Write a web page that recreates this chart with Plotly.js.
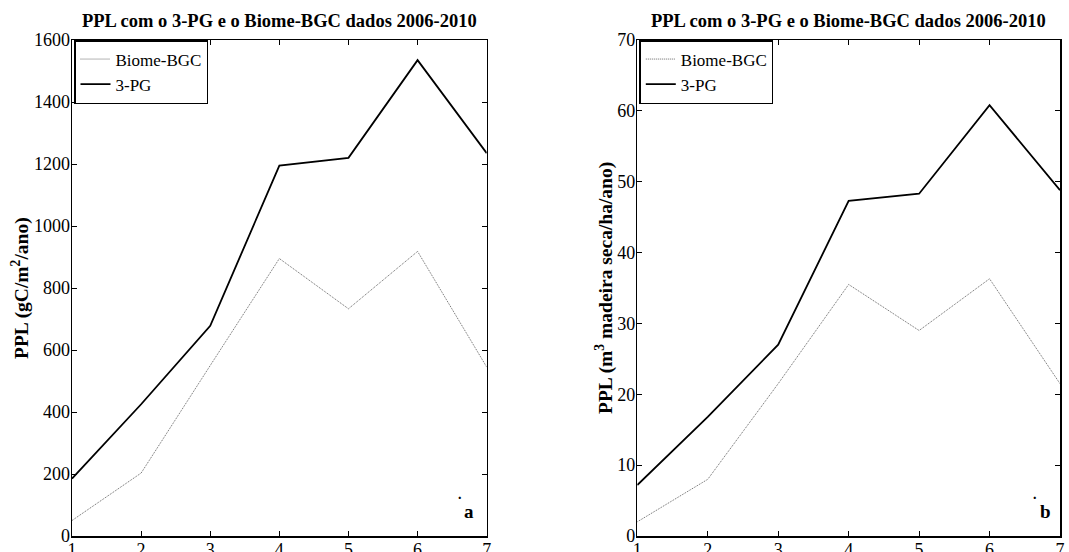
<!DOCTYPE html>
<html>
<head>
<meta charset="utf-8">
<script src="https://cdn.plot.ly/plotly-3.0.1.min.js"></script>
<style>html,body{margin:0;padding:0;background:#fff;}#chart{width:1069px;height:552px;}</style>
</head>
<body>
<div id="chart"></div>
<script>
// Data
const years = [1, 2, 3, 4, 5, 6, 7];
const biomeC = [50, 203, 550, 895, 733, 918, 545];
const pg3C = [185, 425, 678, 1195, 1220, 1535, 1235];
const biomeV = [2, 8, 21.5, 35.5, 29, 36.3, 21.5];
const pg3V = [7.2, 16.8, 27, 47.3, 48.3, 60.8, 48.8];
const xTicks = [1, 2, 3, 4, 5, 6, 7];
const yTicksC = [0, 200, 400, 600, 800, 1000, 1200, 1400, 1600];
const yTicksV = [0, 10, 20, 30, 40, 50, 60, 70];
const seriesNames = ['Biome-BGC', '3-PG'];
const chartTitle = 'PPL com o 3-PG e o Biome-BGC dados 2006-2010';
const yTitleC = 'PPL (gC/m<sup>2</sup>/ano)';
const yTitleV = 'PPL (m<sup>3</sup> madeira seca/ha/ano)';
const panelLabels = ['a', 'b'];

const FONT = '"Liberation Serif", "Times New Roman", serif';
const W = 1069, H = 552, T = 40, B = 16;
const plotH = H - T - B;
const xL = [72 / W, 486.7 / W];
const xR = [637.3 / W, 1060 / W];

const biomeLine = {color: '#666666', width: 1, dash: '1px,1px'};
const pgLine = {color: '#000', width: 1.8};

const traces = [
  {x: years, y: biomeC, name: seriesNames[0], type: 'scatter', mode: 'lines', line: biomeLine, xaxis: 'x', yaxis: 'y', legend: 'legend'},
  {x: years, y: pg3C, name: seriesNames[1], type: 'scatter', mode: 'lines', line: pgLine, xaxis: 'x', yaxis: 'y', legend: 'legend'},
  {x: years, y: biomeV, name: seriesNames[0], type: 'scatter', mode: 'lines', line: biomeLine, xaxis: 'x2', yaxis: 'y2', legend: 'legend2'},
  {x: years, y: pg3V, name: seriesNames[1], type: 'scatter', mode: 'lines', line: pgLine, xaxis: 'x2', yaxis: 'y2', legend: 'legend2'}
];

function xax(domain, anchor) {
  return {
    domain: domain, anchor: anchor, range: [1, 7], tickvals: xTicks,
    ticks: 'inside', ticklen: 5, tickwidth: 1, tickcolor: '#000',
    showline: true, linecolor: '#000', linewidth: 1.5, mirror: 'ticks',
    showgrid: false, zeroline: false, ticklabelstandoff: -3,
    tickfont: {family: FONT, size: 18, color: '#000'}
  };
}
function yax(range, vals, anchor) {
  return {
    domain: [0, 1], anchor: anchor, range: range, tickvals: vals,
    ticks: 'inside', ticklen: 5, tickwidth: 1, tickcolor: '#000',
    showline: true, linecolor: '#000', linewidth: 1.5, mirror: 'ticks',
    showgrid: false, zeroline: false, ticklabelstandoff: -3,
    tickfont: {family: FONT, size: 18, color: '#000'}
  };
}

function legendAt(x0) {
  return {
    x: x0 + 2 / W, y: 1, xanchor: 'left', yanchor: 'top',
    bgcolor: '#fff', bordercolor: '#000', borderwidth: 1.5,
    font: {family: FONT, size: 17, color: '#000'},
    itemwidth: 30, tracegroupgap: 0,
    traceorder: 'normal'
  };
}

const ty = (536 - 21) / plotH;
const annotations = [
  {text: '<b>' + chartTitle + '</b>', xref: 'paper', yref: 'paper', x: (xL[0] + xL[1]) / 2, y: ty, xanchor: 'center', yanchor: 'middle', showarrow: false, font: {family: FONT, size: 18.5, color: '#000'}},
  {text: '<b>' + chartTitle + '</b>', xref: 'paper', yref: 'paper', x: (xR[0] + xR[1]) / 2, y: ty, xanchor: 'center', yanchor: 'middle', showarrow: false, font: {family: FONT, size: 18.5, color: '#000'}},
  {text: '<b>' + yTitleC + '</b>', xref: 'paper', yref: 'paper', x: 20 / W, y: 0.5, textangle: -90, xanchor: 'center', yanchor: 'middle', showarrow: false, font: {family: FONT, size: 19.5, color: '#000'}},
  {text: '<b>' + yTitleV + '</b>', xref: 'paper', yref: 'paper', x: 604 / W, y: 0.5, textangle: -90, xanchor: 'center', yanchor: 'middle', showarrow: false, font: {family: FONT, size: 19.5, color: '#000'}},
  {text: '<b>' + panelLabels[0] + '</b>', xref: 'paper', yref: 'paper', x: 469 / W, y: (536 - 511) / plotH, xanchor: 'center', yanchor: 'middle', showarrow: false, font: {family: FONT, size: 19, color: '#000'}},
  {text: '<b>' + panelLabels[1] + '</b>', xref: 'paper', yref: 'paper', x: 1045 / W, y: (536 - 511) / plotH, xanchor: 'center', yanchor: 'middle', showarrow: false, font: {family: FONT, size: 19, color: '#000'}},
  {text: '<b>.</b>', xref: 'paper', yref: 'paper', x: 460 / W, y: (536 - 494) / plotH, xanchor: 'center', yanchor: 'middle', showarrow: false, font: {family: FONT, size: 14, color: '#000'}},
  {text: '<b>.</b>', xref: 'paper', yref: 'paper', x: 1035 / W, y: (536 - 494) / plotH, xanchor: 'center', yanchor: 'middle', showarrow: false, font: {family: FONT, size: 14, color: '#000'}}
];

const layout = {
  width: W, height: H,
  margin: {l: 0, r: 0, t: T, b: B, pad: 0},
  paper_bgcolor: '#fff', plot_bgcolor: '#fff',
  font: {family: FONT, color: '#000'},
  showlegend: true,
  xaxis: xax(xL, 'y'),
  yaxis: yax([0, 1600], yTicksC, 'x'),
  xaxis2: xax(xR, 'y2'),
  yaxis2: yax([0, 70], yTicksV, 'x2'),
  legend: legendAt(xL[0]),
  legend2: legendAt(xR[0]),
  annotations: annotations
};

Plotly.newPlot('chart', traces, layout, {displayModeBar: false, staticPlot: true});
</script>
</body>
</html>
